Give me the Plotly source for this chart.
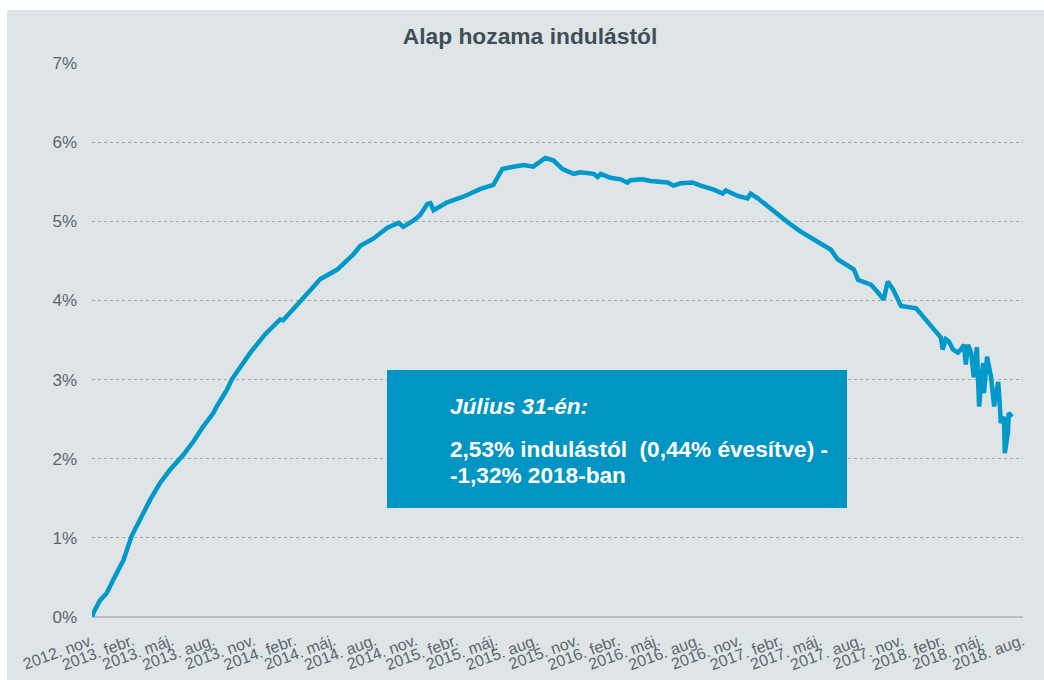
import plotly.graph_objects as go

# ---- data ----
dates = [
    "2012-11-15", "2012-11-18", "2012-12-03", "2012-12-18", "2013-01-02", "2013-01-25",
    "2013-02-12", "2013-03-03", "2013-03-26", "2013-04-17", "2013-05-10", "2013-06-09",
    "2013-07-02", "2013-07-24", "2013-08-16", "2013-08-23", "2013-09-15", "2013-09-26",
    "2013-11-07", "2013-12-10", "2014-01-13", "2014-01-20", "2014-03-04", "2014-04-14",
    "2014-05-22", "2014-06-27", "2014-07-13", "2014-08-11", "2014-09-12", "2014-10-07",
    "2014-10-18", "2014-11-10", "2014-11-25", "2014-12-11", "2014-12-18", "2014-12-25",
    "2015-01-25", "2015-03-02", "2015-04-10", "2015-05-09", "2015-05-18", "2015-05-29",
    "2015-06-23", "2015-07-16", "2015-08-07", "2015-09-03", "2015-09-21", "2015-10-12",
    "2015-11-06", "2015-11-21", "2015-12-21", "2015-12-30", "2016-01-06", "2016-01-28",
    "2016-02-20", "2016-03-06", "2016-03-13", "2016-04-09", "2016-04-27", "2016-06-05",
    "2016-06-18", "2016-07-04", "2016-07-31", "2016-08-18", "2016-09-17", "2016-10-07",
    "2016-10-14", "2016-11-10", "2016-12-02", "2016-12-09", "2016-12-25", "2017-01-16",
    "2017-01-23", "2017-03-09", "2017-04-01", "2017-06-08", "2017-06-23", "2017-07-30",
    "2017-08-08", "2017-09-06", "2017-09-22", "2017-10-05", "2017-10-14", "2017-10-26",
    "2017-11-13", "2017-12-17", "2018-02-11", "2018-02-15", "2018-02-22", "2018-03-01",
    "2018-03-10", "2018-03-21", "2018-03-28", "2018-04-04", "2018-04-08", "2018-04-13",
    "2018-04-20", "2018-04-26", "2018-05-03", "2018-05-08", "2018-05-17", "2018-05-19",
    "2018-05-26", "2018-06-04", "2018-06-11", "2018-06-20", "2018-06-22", "2018-06-26",
    "2018-07-03", "2018-07-05", "2018-07-12", "2018-07-14", "2018-07-21",
]
returns_pct = [
    0.00, 0.05, 0.21, 0.30, 0.47, 0.72,
    1.02, 1.23, 1.48, 1.69, 1.86, 2.05,
    2.22, 2.41, 2.58, 2.66, 2.87, 3.00,
    3.34, 3.57, 3.76, 3.75, 4.01, 4.27,
    4.39, 4.58, 4.69, 4.78, 4.92, 4.98,
    4.93, 5.01, 5.08, 5.22, 5.23, 5.14,
    5.24, 5.31, 5.41, 5.46, 5.55, 5.66,
    5.69, 5.71, 5.69, 5.80, 5.77, 5.66,
    5.60, 5.62, 5.60, 5.56, 5.60, 5.55,
    5.53, 5.49, 5.52, 5.53, 5.51, 5.49,
    5.45, 5.48, 5.49, 5.45, 5.40, 5.35,
    5.39, 5.32, 5.29, 5.35, 5.29, 5.19,
    5.17, 4.96, 4.87, 4.64, 4.52, 4.39,
    4.26, 4.20, 4.10, 4.01, 4.24, 4.14,
    3.93, 3.90, 3.53, 3.38, 3.51, 3.48,
    3.38, 3.34, 3.38, 3.44, 3.19, 3.44,
    3.34, 3.03, 3.41, 2.66, 3.21, 2.83,
    3.29, 3.03, 2.66, 2.97, 2.83, 2.45,
    2.53, 2.07, 2.33, 2.58, 2.53,
]

tick_dates = [
    "2012-11-15", "2013-02-15", "2013-05-15", "2013-08-15", "2013-11-15",
    "2014-02-15", "2014-05-15", "2014-08-15", "2014-11-15",
    "2015-02-15", "2015-05-15", "2015-08-15", "2015-11-15",
    "2016-02-15", "2016-05-15", "2016-08-15", "2016-11-15",
    "2017-02-15", "2017-05-15", "2017-08-15", "2017-11-15",
    "2018-02-15", "2018-05-15", "2018-08-15",
]
tick_labels = [
    "2012. nov.", "2013. febr.", "2013. máj.", "2013. aug.", "2013. nov.",
    "2014. febr.", "2014. máj.", "2014. aug.", "2014. nov.",
    "2015. febr.", "2015. máj.", "2015. aug.", "2015. nov.",
    "2016. febr.", "2016. máj.", "2016. aug.", "2016. nov.",
    "2017. febr.", "2017. máj.", "2017. aug.", "2017. nov.",
    "2018. febr.", "2018. máj.", "2018. aug.",
]
y_ticks = [0, 1, 2, 3, 4, 5, 6, 7]

title_text = "Alap hozama indulástól"
box_head = "Július 31-én:"
box_line1 = "2,53% indulástól  (0,44% évesítve) -"
box_line2 = "-1,32% 2018-ban"

LINE_COLOR = "#0099c9"
BOX_COLOR = "#0095c3"
PANEL = "#dfe4e7"
TEXT = "#5b676e"
TITLE_COLOR = "#3f4f57"
FONT = "Liberation Sans, Arial, sans-serif"

W, H = 1044, 680
ML, MR, MT, MB = 92, 21, 63, 63
PW, PH = W - ML - MR, H - MT - MB


def px_x(x):
    return (x - ML) / PW


def px_y(y):
    return (H - MB - y) / PH


fig = go.Figure()
fig.add_trace(go.Scatter(
    x=dates, y=returns_pct, mode="lines",
    line=dict(color=LINE_COLOR, width=4.5),
    hoverinfo="x+y",
    showlegend=False,
))

shapes = [
    # grey panel behind everything
    dict(type="rect", xref="paper", yref="paper",
         x0=px_x(7), x1=px_x(W + 5), y0=px_y(H + 5), y1=px_y(10),
         fillcolor=PANEL, line=dict(width=0), layer="below"),
    # annotation box
    dict(type="rect", xref="paper", yref="paper",
         x0=px_x(387), x1=px_x(847), y0=px_y(508), y1=px_y(370),
         fillcolor=BOX_COLOR, line=dict(width=0), layer="above"),
]

box_font = dict(family=FONT, size=22.6, color="white")
annotations = [
    dict(xref="paper", yref="paper", x=px_x(448), y=px_y(406),
         xanchor="left", yanchor="middle", showarrow=False,
         text="<b><i>" + box_head + "</i></b>", font=box_font),
    dict(xref="paper", yref="paper", x=px_x(448), y=px_y(450),
         xanchor="left", yanchor="middle", showarrow=False,
         text="<b>" + box_line1 + "</b>", font=box_font),
    dict(xref="paper", yref="paper", x=px_x(448), y=px_y(475),
         xanchor="left", yanchor="middle", showarrow=False,
         text="<b>" + box_line2 + "</b>", font=box_font),
]

fig.update_layout(
    width=W, height=H,
    margin=dict(l=ML, r=MR, t=MT, b=MB, pad=0, autoexpand=False),
    paper_bgcolor="white",
    plot_bgcolor="rgba(0,0,0,0)",
    title=dict(text="<b>" + title_text + "</b>", x=530 / W, xref="container",
               xanchor="center", y=1 - 36 / H, yref="container", yanchor="middle",
               font=dict(family=FONT, size=22.8, color=TITLE_COLOR)),
    shapes=shapes,
    annotations=annotations,
    xaxis=dict(
        type="date",
        range=[tick_dates[0], tick_dates[-1]],
        tickmode="array", tickvals=tick_dates, ticktext=tick_labels,
        tickangle=-20,
        tickfont=dict(family=FONT, size=16, color=TEXT),
        showgrid=False, zeroline=False, showline=False,
        ticks="", ticklabelstandoff=11, automargin=False,
        fixedrange=True,
    ),
    yaxis=dict(
        range=[0, 7],
        tickmode="array", tickvals=y_ticks,
        ticktext=[f"{v}%" for v in y_ticks],
        tickfont=dict(family=FONT, size=17, color=TEXT),
        showgrid=True, gridcolor="#a3a8ab", gridwidth=1, griddash="dot",
        zeroline=True, zerolinecolor="#b9bdc0", zerolinewidth=2,
        showline=False, ticks="", ticklabelstandoff=14, automargin=False,
        fixedrange=True,
    ),
    showlegend=False,
)

fig.write_html("out.html", config={"displayModeBar": False},
               post_script="document.body.style.margin='0px';")
